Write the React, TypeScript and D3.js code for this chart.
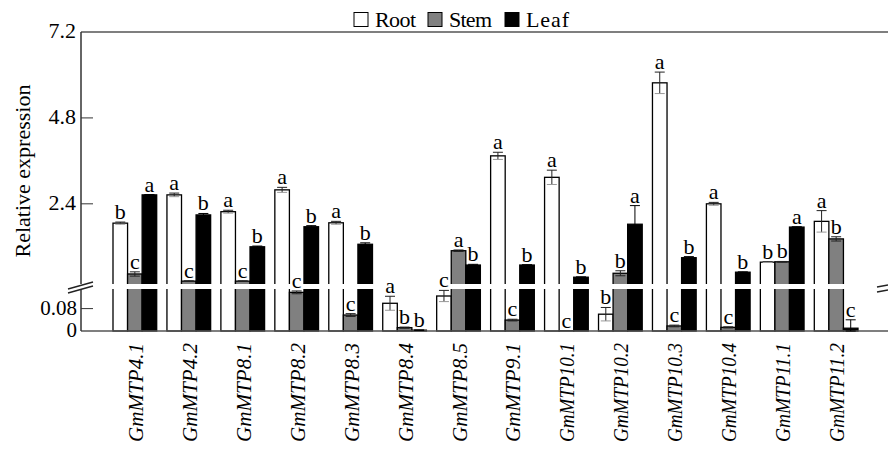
import React from 'react';
import * as d3 from 'd3';

const genes = ['GmMTP4.1', 'GmMTP4.2', 'GmMTP8.1', 'GmMTP8.2', 'GmMTP8.3', 'GmMTP8.4', 'GmMTP8.5',
  'GmMTP9.1', 'GmMTP10.1', 'GmMTP10.2', 'GmMTP10.3', 'GmMTP10.4', 'GmMTP11.1', 'GmMTP11.2'];
const tissues = ['Root', 'Stem', 'Leaf'];

const rootVals = [1.86, 2.65, 2.18, 2.79, 1.87, 0.099, 0.125, 3.74, 3.14, 0.06, 5.78, 2.4, 0.77, 1.91];
const stemVals = [0.44, 0.24, 0.24, 0.138, 0.057, 0.012, 1.09, 0.039, 0.001, 0.46, 0.018, 0.013, 0.78, 1.42];
const leafVals = [2.65, 2.09, 1.2, 1.76, 1.27, 0.003, 0.69, 0.69, 0.35, 1.83, 0.895, 0.49, 1.75, 0.01];

const rootErr = [0.03, 0.05, 0.04, 0.07, 0.04, 0.025, 0.02, 0.1, 0.2, 0.024, 0.3, 0.04, 0.01, 0.3];
const stemErr = [0.06, 0.01, 0.01, 0.005, 0.005, 0.002, 0.02, 0.003, 0, 0.07, 0.003, 0.002, 0.01, 0.06];
const leafErr = [0.01, 0.04, 0.02, 0.03, 0.04, 0.001, 0.02, 0.01, 0.01, 0.52, 0.03, 0.01, 0.01, 0.03];

const rootSig = ['b', 'a', 'a', 'a', 'a', 'a', 'c', 'a', 'a', 'b', 'a', 'a', 'b', 'a'];
const stemSig = ['c', 'c', 'c', 'c', 'c', 'b', 'a', 'c', 'c', 'b', 'c', 'c', 'b', 'b'];
const leafSig = ['a', 'b', 'b', 'b', 'b', 'b', 'b', 'b', 'b', 'a', 'b', 'b', 'a', 'c'];

const upperTicks = [2.4, 4.8, 7.2];
const lowerTicks = [0, 0.08];

const fills = ['#ffffff', '#808080', '#000000'];
const font = '"Liberation Serif", "Times New Roman", serif';

export default function App() {
  const left = 81;
  const base = 331;
  const breakTop = 284;
  const breakBot = 289;

  const x = d3.scaleBand().domain(genes).range([113, 858]).paddingInner(0.19).paddingOuter(0);
  const xs = d3.scaleBand().domain(tissues).range([0, x.bandwidth()]).padding(0);

  // broken y axis: two linear segments
  const yLow = d3.scaleLinear().domain([0, 0.15]).range([base, breakBot]);
  const yUp = d3.scaleLinear().domain([0.16, 7.2]).range([breakTop, 32]);
  const y = (v: number) => (v <= 0.155 ? yLow(v) : yUp(v));

  const vals = [rootVals, stemVals, leafVals];
  const errs = [rootErr, stemErr, leafErr];
  const sigs = [rootSig, stemSig, leafSig];

  const bars: any[] = [];
  genes.forEach((g, i) => {
    tissues.forEach((t, j) => {
      bars.push({ g, t, j, v: vals[j][i], e: errs[j][i], s: sigs[j][i] });
    });
  });

  return (
    <svg width={888} height={454} style={{ position: 'absolute', left: 0, top: 0, background: '#fff', fontFamily: font }}>
      {/* legend */}
      <g fontSize={22}>
        {tissues.map((t, j) => {
          const lx = [354, 428, 505][j];
          return (
            <g key={t}>
              <rect x={lx} y={12.5} width={14} height={14} fill={fills[j]} stroke="#000" strokeWidth={1} />
              <text x={lx + 21} y={27} textLength={[41, 43, 43][j]}>{t}</text>
            </g>
          );
        })}
      </g>

      {/* bars */}
      {bars.map((b, k) => {
        const bx = (x(b.g) as number) + (xs(b.t) as number);
        const w = xs.bandwidth();
        const top = y(b.v);
        return (
          <rect key={'b' + k} x={bx} y={top} width={w} height={base - top}
            fill={fills[b.j]} stroke="#000" strokeWidth={1.3} />
        );
      })}

      {/* frame lines */}
      <line x1={left} x2={888} y1={32} y2={32} stroke="#555" strokeWidth={1.5} />
      <line x1={left} x2={888} y1={base} y2={base} stroke="#555" strokeWidth={1.5} />
      <line x1={left} x2={left} y1={32} y2={base} stroke="#333" strokeWidth={1.5} />

      {/* break band */}
      <rect x={60} y={breakTop} width={800} height={breakBot - breakTop} fill="#fff" />
      <g stroke="#222" strokeWidth={1.3}>
        <line x1={68} x2={93} y1={289} y2={282} />
        <line x1={68} x2={93} y1={293} y2={286} />
        <line x1={877} x2={888} y1={287} y2={285} />
        <line x1={877} x2={888} y1={292} y2={290} />
      </g>

      {/* error bars */}
      {bars.map((b, k) => {
        if (b.e <= 0) return null;
        const cx = (x(b.g) as number) + (xs(b.t) as number) + xs.bandwidth() / 2;
        const y1 = y(b.v + b.e);
        const y2 = y(Math.max(0, b.v - b.e));
        const col = b.j === 2 ? '#000' : '#222';
        return (
          <g key={'e' + k} stroke={col} strokeWidth={1}>
            <line x1={cx} x2={cx} y1={y1} y2={y2} />
            <line x1={cx - 5} x2={cx + 5} y1={y1} y2={y1} />
            <line x1={cx - 5} x2={cx + 5} y1={y2} y2={y2} stroke={b.j === 0 ? '#999' : col} />
          </g>
        );
      })}

      {/* significance letters */}
      {bars.map((b, k) => {
        const cx = (x(b.g) as number) + (xs(b.t) as number) + xs.bandwidth() / 2;
        return (
          <text key={'s' + k} x={cx} y={y(b.v + b.e) - 3} textAnchor="middle" fontSize={22}>{b.s}</text>
        );
      })}

      {/* y ticks */}
      <g textAnchor="end">
        {upperTicks.map(t => (
          <g key={'u' + t}>
            {t !== 7.2 && <line x1={left} x2={left + 12} y1={yUp(t)} y2={yUp(t)} stroke="#333" />}
            <text x={left - 5} y={yUp(t) + 6} fontSize={22}>{t}</text>
          </g>
        ))}
        {lowerTicks.map(t => (
          <g key={'l' + t}>
            {t !== 0 && <line x1={left} x2={left + 12} y1={yLow(t)} y2={yLow(t)} stroke="#333" />}
            <text x={left - 4} y={yLow(t) + 6} fontSize={21}>{t}</text>
          </g>
        ))}
      </g>

      {/* y title */}
      <text transform="translate(30,171) rotate(-90)" textAnchor="middle" fontSize={22}>Relative expression</text>

      {/* x labels */}
      <g fontSize={22} fontStyle="italic" textAnchor="end">
        {genes.map(g => {
          const cx = (x(g) as number) + x.bandwidth() / 2;
          return (
            <text key={g} transform={`translate(${cx + 8},343) rotate(-90)`}
              textLength={99} lengthAdjust="spacingAndGlyphs">{g}</text>
          );
        })}
      </g>
    </svg>
  );
}
